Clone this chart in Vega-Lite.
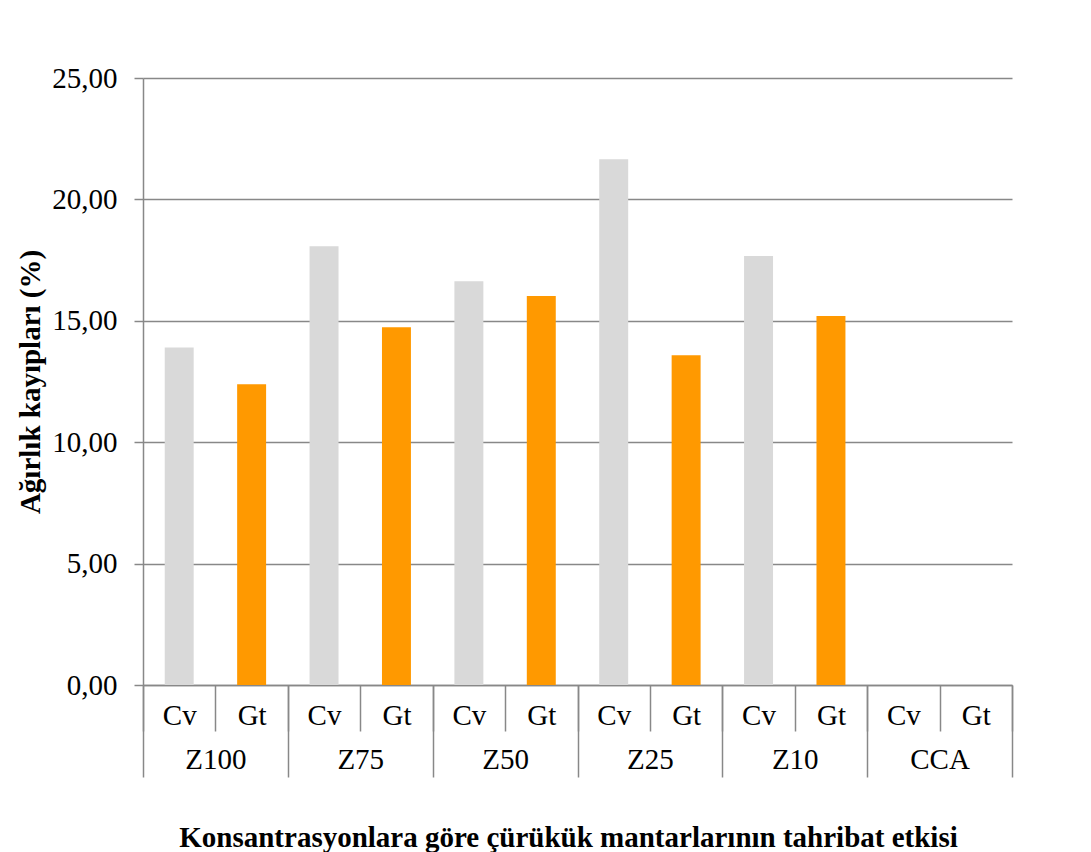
{
  "$schema": "https://vega.github.io/schema/vega-lite/v6.json",
  "autosize": {"type": "none"},
  "padding": {"left": 143, "top": 78, "right": 79, "bottom": 167},
  "width": 869,
  "height": 607,
  "background": "white",
  "config": {
    "view": {"stroke": null},
    "font": "Liberation Serif",
    "axis": {
      "labelFont": "Liberation Serif",
      "titleFont": "Liberation Serif",
      "labelColor": "black",
      "titleColor": "black",
      "labelFontSize": 29,
      "titleFontSize": 29,
      "titleFontWeight": "bold",
      "domainColor": "#888888",
      "domainWidth": 1.5,
      "tickColor": "#888888",
      "tickWidth": 1.5,
      "gridColor": "#888888",
      "gridWidth": 1.5
    }
  },
  "data": {
    "values": [
      {"group": "Z100", "fungus": "Cv", "value": 13.90},
      {"group": "Z100", "fungus": "Gt", "value": 12.39},
      {"group": "Z75", "fungus": "Cv", "value": 18.07},
      {"group": "Z75", "fungus": "Gt", "value": 14.73},
      {"group": "Z50", "fungus": "Cv", "value": 16.63},
      {"group": "Z50", "fungus": "Gt", "value": 16.02},
      {"group": "Z25", "fungus": "Cv", "value": 21.65},
      {"group": "Z25", "fungus": "Gt", "value": 13.58},
      {"group": "Z10", "fungus": "Cv", "value": 17.67},
      {"group": "Z10", "fungus": "Gt", "value": 15.20},
      {"group": "CCA", "fungus": "Cv", "value": 0},
      {"group": "CCA", "fungus": "Gt", "value": 0}
    ]
  },
  "transform": [
    {"calculate": "datum.group + '|' + datum.fungus", "as": "slot"}
  ],
  "layer": [
    {
      "mark": {"type": "bar", "width": {"band": 0.4}},
      "encoding": {
        "x": {
          "field": "slot",
          "type": "nominal",
          "sort": null,
          "scale": {"paddingInner": 0, "paddingOuter": 0},
          "axis": {
            "orient": "bottom",
            "title": null,
            "labelAngle": 0,
            "tickBand": "extent",
            "tickSize": 46,
            "labelPadding": -30,
            "labelExpr": "split(datum.label, '|')[1]"
          }
        },
        "y": {
          "field": "value",
          "type": "quantitative",
          "scale": {"domain": [0, 25], "nice": false},
          "axis": {
            "title": "Ağırlık kayıpları (%)",
            "values": [0, 5, 10, 15, 20, 25],
            "labelExpr": "replace(format(datum.value, '.2f'), '.', ',')",
            "tickSize": 9,
            "labelPadding": 17,
            "titlePadding": 6,
            "grid": true
          }
        },
        "color": {
          "field": "fungus",
          "type": "nominal",
          "scale": {"domain": ["Cv", "Gt"], "range": ["#d9d9d9", "#ff9900"]},
          "legend": null
        }
      }
    },
    {
      "mark": {"type": "point", "opacity": 0},
      "encoding": {
        "x": {
          "field": "group",
          "type": "nominal",
          "scale": {
            "domain": ["Z100", "Z75", "Z50", "Z25", "Z10", "CCA"],
            "paddingInner": 0,
            "paddingOuter": 0
          },
          "axis": {
            "orient": "bottom",
            "title": "Konsantrasyonlara göre çürükük mantarlarının tahribat etkisi",
            "labelAngle": 0,
            "domain": false,
            "grid": false,
            "tickBand": "extent",
            "tickSize": 92,
            "labelPadding": -32,
            "titleY": 138,
            "titleX": 425,
            "titleBaseline": "top"
          }
        },
        "y": {"field": "value", "type": "quantitative"}
      }
    }
  ],
  "resolve": {"scale": {"x": "independent"}, "axis": {"x": "independent"}}
}
